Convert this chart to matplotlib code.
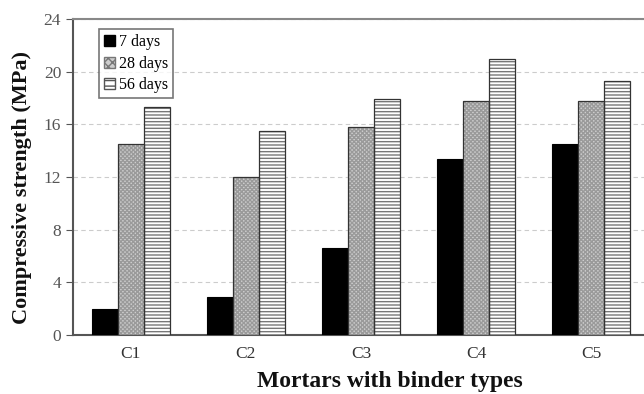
import matplotlib
matplotlib.use('Agg')
import matplotlib.pyplot as plt
import numpy as np
from matplotlib.patches import Patch

# 抗壓強度資料 (MPa)
mortars = ['C1', 'C2', 'C3', 'C4', 'C5']
days_7 = [2.0, 2.9, 6.6, 13.4, 14.5]
days_28 = [14.5, 12.0, 15.8, 17.8, 17.8]
days_56 = [17.3, 15.5, 17.9, 21.0, 19.3]
yticks = [0, 4, 8, 12, 16, 20, 24]

plt.rcParams['font.family'] = ['Liberation Serif', 'DejaVu Serif']

fig = plt.figure(figsize=(6.44, 3.94), dpi=100)
ax = fig.add_axes([0.1134, 0.1497, 0.894, 0.802])

x = np.arange(len(mortars))
w = 0.226

# 7天: 實心黑
ax.bar(x - w, days_7, w, color='black', edgecolor='black', linewidth=0.8, zorder=3)
# 28天: 細網點灰
ax.bar(x, days_28, w, color='#cdcdcd', edgecolor='#9a9a9a', hatch='xxxxxxxx',
       linewidth=0, zorder=3)
ax.bar(x, days_28, w, fill=False, edgecolor='#333333', linewidth=0.9, zorder=4)
# 56天: 水平線紋
ax.bar(x + w, days_56, w, color='white', edgecolor='#777777', hatch='-----',
       linewidth=0, zorder=3)
ax.bar(x + w, days_56, w, fill=False, edgecolor='#333333', linewidth=0.9, zorder=4)

ax.set_xlim(-0.5, 4.5)
ax.set_ylim(0, 24)
ax.set_yticks(yticks)
ax.set_xticks(x)
ax.set_xticklabels(mortars)
ax.tick_params(axis='x', length=0, labelsize=12.5, pad=8)
ax.tick_params(axis='y', length=5, direction='out', labelsize=12.5, color='#555555')
for t in ax.get_yticklabels():
    t.set_color('#555555')
for t in ax.get_xticklabels():
    t.set_color('#333333')

ax.grid(axis='y', linestyle=(0, (4, 3)), color='#cccccc', linewidth=0.8, zorder=0)
ax.spines['right'].set_visible(False)
ax.spines['top'].set_color('#888888')
ax.spines['top'].set_linewidth(1.5)
ax.spines['left'].set_color('#555555')
ax.spines['left'].set_linewidth(1.5)
ax.spines['bottom'].set_color('#555555')
ax.spines['bottom'].set_linewidth(1.5)

ax.set_ylabel('Compressive strength (MPa)', fontsize=16, fontweight='bold', color='#111111')
ax.yaxis.set_label_coords(-0.072, 0.468)
ax.set_xlabel('Mortars with binder types', fontsize=17, fontweight='bold', color='#111111')
ax.xaxis.set_label_coords(0.551, -0.115)

handles = [
    Patch(facecolor='black', edgecolor='black', label='7 days'),
    Patch(facecolor='#cdcdcd', edgecolor='#777777', hatch='xxxx', label='28 days'),
    Patch(facecolor='white', edgecolor='#555555', hatch='---', label='56 days'),
]
leg = ax.legend(handles=handles, loc='upper left', bbox_to_anchor=(0.045, 0.968),
                fontsize=11.5, frameon=True, fancybox=False, handlelength=0.7,
                handleheight=0.7, handletextpad=0.25, labelspacing=0.36,
                borderpad=0.3, borderaxespad=0)
leg.get_frame().set_edgecolor('#555555')
leg.get_frame().set_linewidth(1.2)

fig.savefig('out.png', dpi=100)
